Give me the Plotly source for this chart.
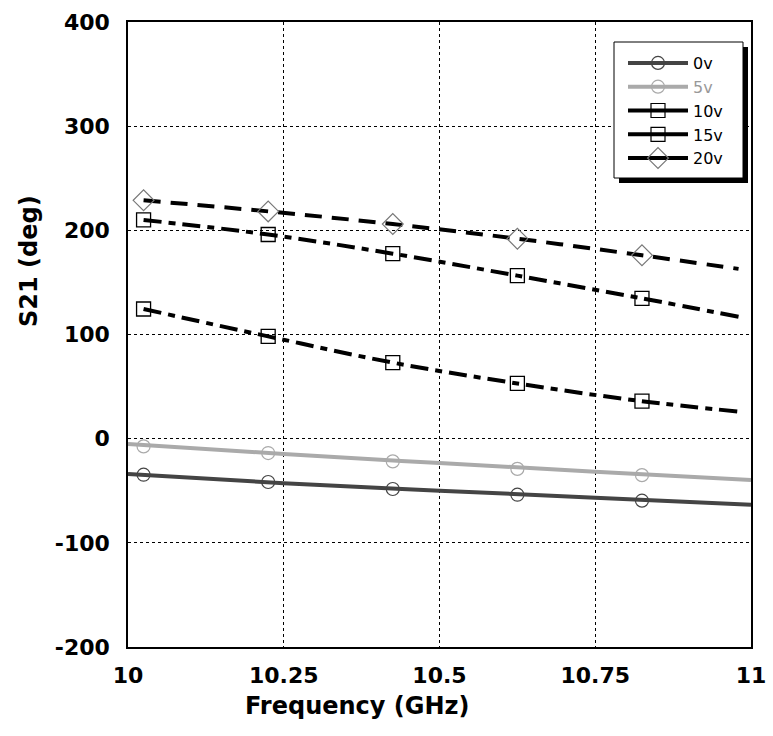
import plotly.graph_objects as go

# marker frequencies (GHz)
f_mark = [10.025, 10.225, 10.425, 10.625, 10.825]

# solid curve sample frequencies
f_line = [10.0, 10.25, 10.5, 10.75, 11.0]
v0_line = [-34, -42.7, -49.9, -56.6, -63.4]
v5_line = [-5, -14.7, -23.4, -31.7, -39.7]
v0_mark = [-34.6, -41.6, -48.3, -53.8, -59.5]
v5_mark = [-7.4, -13.8, -21.8, -29.0, -35.0]

# dashed series (line passes through markers, ends near 10.98)
f_dash = [10.025, 10.225, 10.425, 10.625, 10.825, 10.98]
v10 = [124.5, 98.2, 73.0, 53.0, 36.0, 26.0]
v15 = [210.0, 196.0, 177.6, 156.5, 134.7, 117.0]
v20 = [228.8, 218.2, 206.0, 192.0, 176.0, 163.0]

x_ticks = [10, 10.25, 10.5, 10.75, 11]
x_tick_text = ["10", "10.25", "10.5", "10.75", "11"]
y_ticks = [-200, -100, 0, 100, 200, 300, 400]
y_tick_text = ["-200", "-100", "0", "100", "200", "300", "400"]

names = ["0v", "5v", "10v", "15v", "20v"]

DARK = "#444444"
LIGHT = "#aaaaaa"
DIAM = "#777777"
DASHDOT = "18px,7px,7px,7px"
DASH = "17px,10px"

fig = go.Figure()

# curves
fig.add_trace(go.Scatter(x=f_line, y=v0_line, mode="lines", showlegend=False,
                         line=dict(color=DARK, width=4, shape="spline")))
fig.add_trace(go.Scatter(x=f_line, y=v5_line, mode="lines", showlegend=False,
                         line=dict(color=LIGHT, width=4, shape="spline")))
fig.add_trace(go.Scatter(x=f_dash, y=v10, mode="lines", showlegend=False,
                         line=dict(color="black", width=4, dash=DASHDOT, shape="spline")))
fig.add_trace(go.Scatter(x=f_dash, y=v15, mode="lines", showlegend=False,
                         line=dict(color="black", width=4, dash=DASHDOT, shape="spline")))
fig.add_trace(go.Scatter(x=f_dash, y=v20, mode="lines", showlegend=False,
                         line=dict(color="black", width=4, dash=DASH, shape="spline")))

# markers
fig.add_trace(go.Scatter(x=f_mark, y=v0_mark, mode="markers", showlegend=False,
                         marker=dict(symbol="circle-open", size=13, color=DARK, line=dict(width=1.2))))
fig.add_trace(go.Scatter(x=f_mark, y=v5_mark, mode="markers", showlegend=False,
                         marker=dict(symbol="circle-open", size=13, color=LIGHT, line=dict(width=1.2))))
fig.add_trace(go.Scatter(x=f_mark, y=v10[:5], mode="markers", showlegend=False,
                         marker=dict(symbol="square-open", size=14, color="black", line=dict(width=1.3))))
fig.add_trace(go.Scatter(x=f_mark, y=v15[:5], mode="markers", showlegend=False,
                         marker=dict(symbol="square-open", size=14, color="black", line=dict(width=1.3))))
fig.add_trace(go.Scatter(x=f_mark, y=v20[:5], mode="markers", showlegend=False,
                         marker=dict(symbol="diamond-open", size=16, color=DIAM, line=dict(width=1.2))))

# legend entries
leg = [
    (names[0], DARK, "circle-open", 13, DARK),
    ("<span style='color:#999999'>" + names[1] + "</span>", LIGHT, "circle-open", 13, LIGHT),
    (names[2], "black", "square-open", 14, "black"),
    (names[3], "black", "square-open", 14, "black"),
    (names[4], "black", "diamond-open", 16, DIAM),
]
for nm, lc, sym, sz, mc in leg:
    fig.add_trace(go.Scatter(x=[None], y=[None], mode="lines+markers", name=nm,
                             line=dict(color=lc, width=4),
                             marker=dict(symbol=sym, size=sz, color=mc, line=dict(width=1.2))))

AXFONT = dict(family="DejaVu Sans", size=22, color="black", weight="bold")
TITLEFONT = dict(family="DejaVu Sans", size=24, color="black", weight="bold")

W_PLOT = 623.0
H_PLOT = 625.0
def px(x):
    return (x - 128) / W_PLOT
def py(y):
    return (647 - y) / H_PLOT

fig.update_layout(
    width=773, height=736,
    margin=dict(l=128, r=22, t=22, b=89),
    paper_bgcolor="white", plot_bgcolor="white",
    showlegend=True,
    legend=dict(x=px(623), y=py(46), xanchor="left", yanchor="top",
                bgcolor="rgba(0,0,0,0)", borderwidth=0,
                font=dict(family="DejaVu Sans", size=16, color="black"),
                tracegroupgap=0, itemwidth=60),
    shapes=[
        dict(type="rect", xref="paper", yref="paper", x0=px(619), x1=px(748), y0=py(183), y1=py(47),
             fillcolor="black", line=dict(width=0), layer="above"),
        dict(type="rect", xref="paper", yref="paper", x0=px(614), x1=px(743), y0=py(178), y1=py(42),
             fillcolor="white", line=dict(width=1, color="black"), layer="above"),
    ],
    annotations=[
        dict(text="Frequency (GHz)", xref="paper", yref="paper", x=px(357), y=py(706),
             xanchor="center", yanchor="middle", showarrow=False, font=TITLEFONT),
        dict(text="S21 (deg)", xref="paper", yref="paper", x=px(29), y=py(261), textangle=-90,
             xanchor="center", yanchor="middle", showarrow=False, font=TITLEFONT),
    ],
)
fig.update_xaxes(range=[10, 11], tickvals=x_ticks, ticktext=x_tick_text, showgrid=True,
                 gridcolor="black", griddash="dot", gridwidth=1, automargin=False,
                 showline=True, linecolor="black", linewidth=1.5, mirror=True, ticks="",
                 tickfont=AXFONT, ticklabelstandoff=8, zeroline=False)
fig.update_yaxes(range=[-200, 400], tickvals=y_ticks, ticktext=y_tick_text, showgrid=True,
                 gridcolor="black", griddash="dot", gridwidth=1, automargin=False,
                 showline=True, linecolor="black", linewidth=1.5, mirror=True, ticks="",
                 tickfont=AXFONT, ticklabelstandoff=12, zeroline=False)

fig.write_html("out.html")
